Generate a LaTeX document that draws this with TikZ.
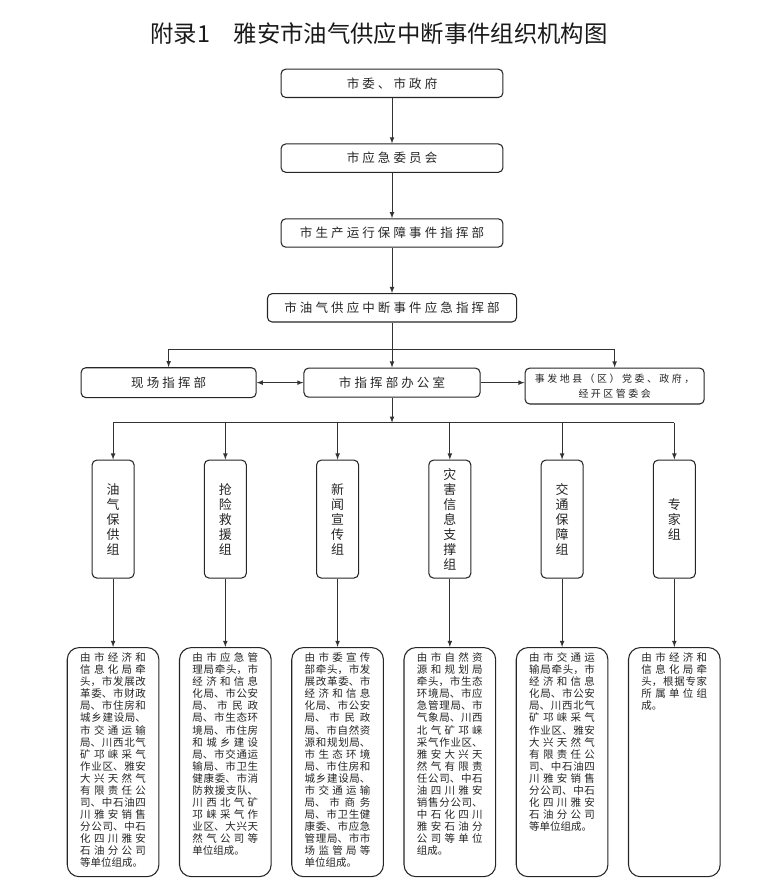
\documentclass[tikz,border=0pt]{standalone}
\usepackage{fontspec}
\setmainfont{Noto Sans CJK SC}
\newfontfamily\boxfont[LetterSpace=25]{Noto Sans CJK SC}
\usetikzlibrary{arrows}
\newcommand{\detailfont}{\fontsize{7.9pt}{9.1pt}\selectfont
	\XeTeXlinebreaklocale "zh"\XeTeXlinebreakskip=0pt plus 3pt\relax}
\tikzstyle{baseBox} = [shape=rectangle, draw=black!85, line width=0.8pt, 
	text=black!85, fill=white, rounded corners=3.5pt]
\tikzstyle{TopBox} = [baseBox, minimum width=5.87cm, minimum height=0.75cm, 
	font=\boxfont\fontsize{9.4pt}{11pt}\selectfont]
\tikzstyle{WideBox} = [TopBox, minimum width=6.59cm]
\tikzstyle{RowBox} = [TopBox, minimum width=4.66cm, minimum height=0.77cm]
\tikzstyle{EvtBox} = [baseBox, minimum width=4.74cm, minimum height=0.95cm, 
	align=center, font=\boxfont\fontsize{7.5pt}{11.8pt}\selectfont]
\tikzstyle{GroupBox} = [baseBox, minimum width=1.11cm, minimum height=3.12cm, 
	inner sep=0pt, align=center, font=\fontsize{9.75pt}{11.25pt}\selectfont]
\tikzstyle{DetailBox} = [baseBox, rounded corners=9pt, text width=49.5pt, 
	align=justify, text height=8pt, text depth=159.5pt, inner xsep=9.75pt, 
	inner ysep=2.5pt, font=\detailfont]
\tikzstyle{link} = [draw=black!80, line width=0.6pt, >=latex]

\begin{document}
\begin{tikzpicture}[node distance=1.98cm]
  \useasboundingbox (-10.372,2.204) rectangle (10.133,-21.370);

  \node (SW) [TopBox] {市委、市政府};
  \node (TIT) [above of=SW, xshift=-0.34cm, yshift=-0.66cm, text=black!90, 
    font=\fontsize{17.6pt}{20pt}\selectfont] {附录1\quad 雅安市油气供应中断事件组织机构图};
  \node (YJW) [TopBox, below of=SW] {市应急委员会};
  \node (SCB) [TopBox, below of=YJW] {市生产运行保障事件指挥部};
  \node (YQB) [WideBox, below of=SCB] {市油气供应中断事件应急指挥部};

  \node (BGS) [RowBox, below of=YQB] {市指挥部办公室};
  \node (XC) [RowBox, left of=BGS, xshift=-3.93cm, minimum width=4.63cm, minimum height=0.79cm] {现场指挥部};
  \node (SFD) [EvtBox, right of=BGS, xshift=3.91cm, yshift=-0.09cm] {事发地县（区）党委、政府，\\经开区管委会};

  \node (YQG) [GroupBox, below of=BGS, xshift=-7.38cm, yshift=-1.63cm] {油\\气\\保\\供\\组};
  \node (QXJ) [GroupBox, right of=YQG, xshift=0.99cm] {抢\\险\\救\\援\\组};
  \node (XWX) [GroupBox, right of=QXJ, xshift=0.99cm] {新\\闻\\宣\\传\\组};
  \node (ZHX) [GroupBox, right of=XWX, xshift=0.99cm] {灾\\害\\信\\息\\支\\撑\\组};
  \node (JTB) [GroupBox, right of=ZHX, xshift=0.99cm] {交\\通\\保\\障\\组};
  \node (ZJZ) [GroupBox, right of=JTB, xshift=0.99cm] {专\\家\\组};

  \node (Yqg) [DetailBox, below of=YQG, yshift=-4.45cm] {由市经济和\linebreak 信息化局牵\linebreak 头，市发展改\linebreak 革委、市财政\linebreak 局、市住房和\linebreak 城乡建设局、\linebreak 市交通运输\linebreak 局、川西北气\linebreak 矿邛崃采气\linebreak 作业区、雅安\linebreak 大兴天然气\linebreak 有限责任公\linebreak 司、中石油四\linebreak 川雅安销售\linebreak 分公司、中石\linebreak 化四川雅安\linebreak 石油分公司\linebreak 等单位组成。};
  \node (Qxj) [DetailBox, below of=QXJ, yshift=-4.45cm] {由市应急管\linebreak 理局牵头，市\linebreak 经济和信息\linebreak 化局、市公安\linebreak 局、 市民政\linebreak 局、市生态环\linebreak 境局、市住房\linebreak 和城乡建设\linebreak 局、市交通运\linebreak 输局、市卫生\linebreak 健康委、市消\linebreak 防救援支队、\linebreak 川西北气矿\linebreak 邛崃采气作\linebreak 业区、大兴天\linebreak 然气公司等\linebreak 单位组成。};
  \node (Xwx) [DetailBox, below of=XWX, yshift=-4.45cm] {由市委宣传\linebreak 部牵头，市发\linebreak 展改革委、市\linebreak 经济和信息\linebreak 化局、市公安\linebreak 局、 市民政\linebreak 局、市自然资\linebreak 源和规划局、\linebreak 市生态环境\linebreak 局、市住房和\linebreak 城乡建设局、\linebreak 市交通运输\linebreak 局、 市商务\linebreak 局、市卫生健\linebreak 康委、市应急\linebreak 管理局、市市\linebreak 场监管局等\linebreak 单位组成。};
  \node (Zhx) [DetailBox, below of=ZHX, yshift=-4.45cm] {由市自然资\linebreak 源和规划局\linebreak 牵头，市生态\linebreak 环境局、市应\linebreak 急管理局、市\linebreak 气象局、川西\linebreak 北气矿邛崃\linebreak 采气作业区、\linebreak 雅安大兴天\linebreak 然气有限责\linebreak 任公司、中石\linebreak 油四川雅安\linebreak 销售分公司、\linebreak 中石化四川\linebreak 雅安石油分\linebreak 公司等单位\linebreak 组成。};
  \node (Jtb) [DetailBox, below of=JTB, yshift=-4.45cm] {由市交通运\linebreak 输局牵头，市\linebreak 经济和信息\linebreak 化局、市公安\linebreak 局、川西北气\linebreak 矿邛崃采气\linebreak 作业区、雅安\linebreak 大兴天然气\linebreak 有限责任公\linebreak 司、中石油四\linebreak 川雅安销售\linebreak 分公司、中石\linebreak 化四川雅安\linebreak 石油分公司\linebreak 等单位组成。};
  \node (Zjz) [DetailBox, below of=ZJZ, yshift=-4.45cm] {由市经济和\linebreak 信息化局牵\linebreak 头，根据专家\linebreak 所属单位组\linebreak 成。};

  % command chain
  \draw [link, ->] (SW) -- (YJW);
  \draw [link, ->] (YJW) -- (SCB);
  \draw [link, ->] (SCB) -- (YQB);
  \draw [link, ->] (YQB) -- (BGS);
  \coordinate (Fork) at ([yshift=-0.71cm]YQB.south);
  \draw [link, ->] (Fork) -| (XC);
  \draw [link, ->] (Fork) -| (SFD);
  \draw [link, <->] (XC) -- (BGS);
  \draw [link, ->] (BGS) -- (BGS -| SFD.west);

  % working groups
  \coordinate (Bus) at ([yshift=-0.66cm]BGS.south);
  \draw [link, ->] (BGS) -- (Bus);
  \draw [link] (Bus -| YQG) -- (Bus -| ZJZ);
  \draw [link, ->] (Bus -| YQG) -- (YQG);
  \draw [link, ->] (Bus -| QXJ) -- (QXJ);
  \draw [link, ->] (Bus -| XWX) -- (XWX);
  \draw [link, ->] (Bus -| ZHX) -- (ZHX);
  \draw [link, ->] (Bus -| JTB) -- (JTB);
  \draw [link, ->] (Bus -| ZJZ) -- (ZJZ);

  \draw [link, ->] (YQG) -- (Yqg);
  \draw [link, ->] (QXJ) -- (Qxj);
  \draw [link, ->] (XWX) -- (Xwx);
  \draw [link, ->] (ZHX) -- (Zhx);
  \draw [link, ->] (JTB) -- (Jtb);
  \draw [link, ->] (ZJZ) -- (Zjz);

\end{tikzpicture}
\end{document}
